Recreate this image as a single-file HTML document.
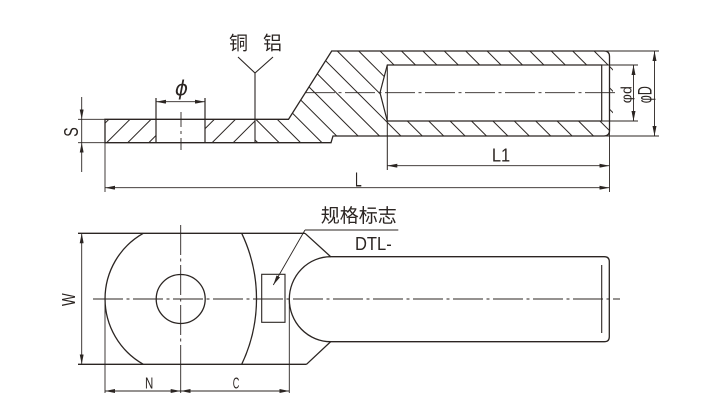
<!DOCTYPE html>
<html>
<head>
<meta charset="utf-8">
<style>
  html,body{margin:0;padding:0;background:#fff;}
  svg{display:block;}
  text{fill:#2b2522;font-family:"Liberation Sans","DejaVu Sans",sans-serif;}
  .cjk{font-family:"Liberation Sans","Noto Sans CJK SC","WenQuanYi Zen Hei",sans-serif;}
</style>
</head>
<body>
<svg width="707" height="414" viewBox="0 0 707 414" xmlns="http://www.w3.org/2000/svg">
<defs>
  <marker id="a" viewBox="0 0 10 4" refX="10" refY="2" markerWidth="10" markerHeight="4" markerUnits="userSpaceOnUse" orient="auto-start-reverse">
    <path d="M0,0 L10,2 L0,4Z" fill="#2b2522"/>
  </marker>
  <clipPath id="cR">
    <path clip-rule="evenodd" d="M255,119.3 L288.5,119.3 L331.7,51 L604,51 Q609.5,51 609.5,56.5 L609.5,130.5 Q609.5,136 604,136 L333,136 L331,142.7 L255,142.7 Z M387.3,65 L613,65 L613,121 L387.3,121 L380,92.7 Z"/>
  </clipPath>
  <clipPath id="cL">
    <path clip-rule="evenodd" d="M105,119.3 H255 V142.7 H105 Z M156,119.3 H205 V142.7 H156 Z"/>
  </clipPath>
</defs>

<g stroke="#2b2522" fill="none" stroke-linecap="butt">

  <!-- ================= TOP VIEW (section) ================= -->
  <!-- hatching "\" -->
  <g clip-path="url(#cR)" stroke-width="1">
    <line x1="166.1" y1="51" x2="258.1" y2="143"/>
    <line x1="187.5" y1="51" x2="279.5" y2="143"/>
    <line x1="208.9" y1="51" x2="300.9" y2="143"/>
    <line x1="230.3" y1="51" x2="322.3" y2="143"/>
    <line x1="251.7" y1="51" x2="343.7" y2="143"/>
    <line x1="273.1" y1="51" x2="365.1" y2="143"/>
    <line x1="294.5" y1="51" x2="386.5" y2="143"/>
    <line x1="315.9" y1="51" x2="407.9" y2="143"/>
    <line x1="337.3" y1="51" x2="429.3" y2="143"/>
    <line x1="358.7" y1="51" x2="450.7" y2="143"/>
    <line x1="380.1" y1="51" x2="472.1" y2="143"/>
    <line x1="401.5" y1="51" x2="493.5" y2="143"/>
    <line x1="422.9" y1="51" x2="514.9" y2="143"/>
    <line x1="444.3" y1="51" x2="536.3" y2="143"/>
    <line x1="465.7" y1="51" x2="557.7" y2="143"/>
    <line x1="487.1" y1="51" x2="579.1" y2="143"/>
    <line x1="508.5" y1="51" x2="600.5" y2="143"/>
    <line x1="529.9" y1="51" x2="621.9" y2="143"/>
    <line x1="551.3" y1="51" x2="643.3" y2="143"/>
    <line x1="572.7" y1="51" x2="664.7" y2="143"/>
    <line x1="594.1" y1="51" x2="686.1" y2="143"/>
  </g>
  <!-- hatching "/" -->
  <g clip-path="url(#cL)" stroke-width="1">
    <line x1="85.2" y1="143" x2="109.2" y2="119"/>
    <line x1="106.3" y1="143" x2="130.3" y2="119"/>
    <line x1="127.4" y1="143" x2="151.4" y2="119"/>
    <line x1="148.5" y1="143" x2="172.5" y2="119"/>
    <line x1="169.6" y1="143" x2="193.6" y2="119"/>
    <line x1="190.7" y1="143" x2="214.7" y2="119"/>
    <line x1="211.8" y1="143" x2="235.8" y2="119"/>
    <line x1="232.9" y1="143" x2="256.9" y2="119"/>
  </g>

  <!-- outline -->
  <path stroke-width="1.3" d="M105,119.3 L288.5,119.3 L331.7,51 L604,51 Q609.5,51 609.5,56.5 L609.5,130.5 Q609.5,136 604,136 L333,136 L331,142.7 L105,142.7 Z"/>
  <!-- hole walls -->
  <line stroke-width="1.2" x1="156" y1="98" x2="156" y2="142.7"/>
  <line stroke-width="1.2" x1="205" y1="98" x2="205" y2="142.7"/>
  <!-- bore -->
  <path stroke-width="1.2" d="M387.3,65 L601.7,65 L601.7,121 L387.3,121 L380,92.7 Z"/>
  <line stroke-width="1" x1="387.3" y1="65" x2="387.3" y2="170"/>
  <!-- weld line + Y symbol -->
  <line stroke-width="1.1" x1="255" y1="73" x2="255" y2="142.7"/>
  <polyline stroke-width="1.1" points="238,57 255,73 273,57"/>

  <!-- centerlines -->
  <line stroke-width="0.9" x1="305" y1="92.7" x2="618" y2="92.7" stroke-dasharray="30 3.5 3 3.5"/>
  <line stroke-width="0.9" x1="181" y1="112" x2="181" y2="150" stroke-dasharray="15 4 3 4 12"/>

  <!-- extension lines -->
  <g stroke-width="0.9">
    <line x1="78" y1="119.3" x2="105" y2="119.3"/>
    <line x1="78" y1="142.7" x2="105" y2="142.7"/>
    <line x1="105" y1="142.7" x2="105" y2="192"/>
    <line x1="609.5" y1="130" x2="609.5" y2="192"/>
    <line x1="601.7" y1="65" x2="638" y2="65"/>
    <line x1="601.7" y1="121" x2="638" y2="121"/>
    <line x1="604" y1="51" x2="659" y2="51"/>
    <line x1="604" y1="136" x2="659" y2="136"/>
  </g>

  <!-- dimension lines -->
  <g stroke-width="0.9">
    <line x1="156" y1="101.7" x2="205" y2="101.7" marker-start="url(#a)" marker-end="url(#a)"/>
    <line x1="105" y1="187.7" x2="609.5" y2="187.7" marker-start="url(#a)" marker-end="url(#a)"/>
    <line x1="387.3" y1="165.7" x2="609.5" y2="165.7" marker-start="url(#a)" marker-end="url(#a)"/>
    <line x1="633.5" y1="65" x2="633.5" y2="121" marker-start="url(#a)" marker-end="url(#a)"/>
    <line x1="654.5" y1="51" x2="654.5" y2="136" marker-start="url(#a)" marker-end="url(#a)"/>
    <line x1="81.7" y1="97" x2="81.7" y2="119.3" marker-end="url(#a)"/>
    <line x1="81.7" y1="119.3" x2="81.7" y2="142.7"/>
    <line x1="81.7" y1="172" x2="81.7" y2="142.7" marker-end="url(#a)"/>
  </g>

  <!-- ================= BOTTOM VIEW (plan) ================= -->
  <g stroke-width="1.3">
    <line x1="78" y1="233.3" x2="305" y2="233.3"/>
    <line x1="78" y1="364.3" x2="306.5" y2="364.3"/>
    <path d="M305,233.3 L330.7,256.7 L604.3,256.7 Q609.3,256.7 609.3,261.7 L609.3,336.7 Q609.3,341.7 604.3,341.7 L330.7,341.7 L306.5,364.3"/>
    <path d="M330.7,256.7 A41.4,42.5 0 0 0 330.7,341.7"/>
    <path d="M143.3,233.3 A75.2,75.2 0 0 0 143.3,364.3"/>
    <path d="M241.7,233.3 A152.3,152.3 0 0 1 241.7,364.3"/>
    <circle cx="180.7" cy="299" r="24.5"/>
  </g>
  <rect x="261.7" y="274.3" width="23.3" height="48" stroke-width="1.1"/>
  <line stroke-width="1.1" x1="601.7" y1="265" x2="601.7" y2="333"/>

  <!-- centerlines -->
  <line stroke-width="0.9" x1="93" y1="299" x2="620" y2="299" stroke-dasharray="30 3.5 3 3.5"/>
  <line stroke-width="0.9" x1="180.7" y1="225" x2="180.7" y2="364.3" stroke-dasharray="30 3.5 3 3.5"/>
  <line stroke-width="0.9" x1="180.7" y1="364.3" x2="180.7" y2="393"/>

  <!-- extension lines -->
  <g stroke-width="0.9">
    <line x1="105" y1="299" x2="105" y2="393"/>
    <line x1="289.3" y1="299" x2="289.3" y2="393"/>
  </g>

  <!-- dims -->
  <g stroke-width="0.9">
    <line x1="81.7" y1="233.3" x2="81.7" y2="364.3" marker-start="url(#a)" marker-end="url(#a)"/>
    <line x1="105" y1="391" x2="180.7" y2="391" marker-start="url(#a)" marker-end="url(#a)"/>
    <line x1="180.7" y1="391" x2="289.3" y2="391" marker-start="url(#a)" marker-end="url(#a)"/>
    <line x1="305" y1="230" x2="273.3" y2="285" marker-end="url(#a)"/>
    <line x1="305" y1="230" x2="398.3" y2="230"/>
  </g>
</g>

<!-- ================= TEXT ================= -->
<text class="cjk" x="229" y="49.4" font-size="19">铜</text>
<text class="cjk" x="263" y="49.4" font-size="19">铝</text>
<text x="181.5" y="95" font-size="20" text-anchor="middle" font-style="italic" style="font-family:'DejaVu Sans',sans-serif">ϕ</text>
<text x="501" y="161.7" font-size="18" text-anchor="middle" textLength="18.3" lengthAdjust="spacingAndGlyphs">L1</text>
<text x="358.3" y="186.5" font-size="20" text-anchor="middle" textLength="6.7" lengthAdjust="spacingAndGlyphs">L</text>
<text transform="translate(78,132) rotate(-90)" font-size="20" text-anchor="middle" textLength="9.5" lengthAdjust="spacingAndGlyphs">S</text>
<text transform="translate(631.5,94.7) rotate(-90)" font-size="15" text-anchor="middle" textLength="17" lengthAdjust="spacingAndGlyphs">φd</text>
<text transform="translate(651.7,94.7) rotate(-90)" font-size="19" text-anchor="middle" textLength="17" lengthAdjust="spacingAndGlyphs">φD</text>

<text transform="translate(75,299.7) rotate(-90)" font-size="18" text-anchor="middle" textLength="12.7" lengthAdjust="spacingAndGlyphs">W</text>
<text x="149.2" y="388.3" font-size="16" text-anchor="middle" textLength="8.3" lengthAdjust="spacingAndGlyphs">N</text>
<text x="236" y="388.3" font-size="16" text-anchor="middle" textLength="6.6" lengthAdjust="spacingAndGlyphs">C</text>
<text class="cjk" x="320.7" y="222" font-size="19">规格标志</text>
<text x="355" y="250" font-size="18" textLength="36.7" lengthAdjust="spacingAndGlyphs">DTL-</text>
</svg>
</body>
</html>
